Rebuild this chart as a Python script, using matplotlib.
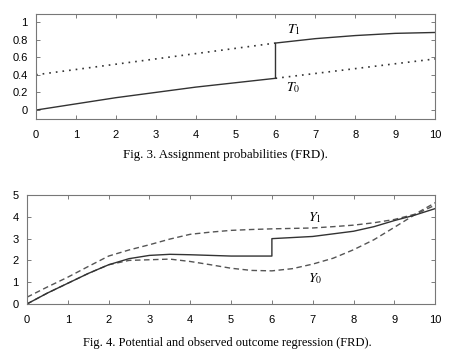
import matplotlib.pyplot as plt

plt.rcParams['mathtext.fontset'] = 'stix'

# Fig. 3 data: assignment probabilities
x_left = [0, 1, 2, 3, 4, 5, 6]
t_left = [0.0, 0.07, 0.14, 0.20, 0.26, 0.31, 0.36]
x_right = [6, 7, 8, 9, 10]
t_right = [0.76, 0.81, 0.845, 0.87, 0.88]
t1_dot_x = [0, 6]
t1_dot = [0.40, 0.76]
t0_dot_x = [6, 10]
t0_dot = [0.36, 0.58]

# Fig. 4 data: outcome regressions
xs = [0, 0.5, 1, 1.5, 2, 2.5, 3, 3.5, 4, 4.5, 5, 5.5, 6, 6.5, 7, 7.5, 8, 8.5, 9, 9.5, 10]
y1 = [0.31, 0.78, 1.23, 1.72, 2.2, 2.48, 2.72, 2.98, 3.2, 3.3, 3.38, 3.42, 3.45, 3.47,
      3.49, 3.55, 3.62, 3.73, 3.88, 4.12, 4.65]
y0 = [0.0, 0.5, 0.95, 1.4, 1.8, 2.0, 2.03, 2.06, 1.95, 1.8, 1.64, 1.54, 1.52, 1.62,
      1.83, 2.1, 2.49, 2.95, 3.52, 4.1, 4.54]
obs_x_left = [0, 0.5, 1, 1.5, 2, 2.5, 3, 3.5, 4, 4.5, 5, 5.5, 6]
obs_left = [0.0, 0.5, 0.95, 1.4, 1.8, 2.08, 2.23, 2.28, 2.26, 2.23, 2.2, 2.2, 2.2]
obs_x_right = [6, 7, 8, 8.5, 9, 9.5, 10]
obs_right = [3.0, 3.1, 3.34, 3.55, 3.83, 4.08, 4.38]

col = '#333333'
fig = plt.figure(figsize=(4.5, 3.58), dpi=100)

ax1 = fig.add_axes([0.08, 0.668, 0.887, 0.293])
ax1.plot(x_left + x_right, t_left + t_right, color=col, lw=1)
ax1.plot(t1_dot_x, t1_dot, color=col, lw=1.2, ls=(0, (1, 3)))
ax1.plot(t0_dot_x, t0_dot, color=col, lw=1.2, ls=(0, (1, 3)))
ax1.set_xlim(0, 10)
ax1.set_ylim(-0.1, 1.09)
ax1.set_xticks(range(11))
ax1.set_yticks([0, 0.2, 0.4, 0.6, 0.8, 1])
ax1.set_yticklabels(['0', '0.2', '0.4', '0.6', '0.8', '1'])
ax1.text(6.45, 0.91, r'$T_1$', fontsize=10, ha='center', va='center')
ax1.text(6.45, 0.25, r'$T_0$', fontsize=10, ha='center', va='center')

ax2 = fig.add_axes([0.06, 0.151, 0.907, 0.304])
ax2.plot(xs, y1, color='#555555', lw=1, ls=(0, (4, 2.5)))
ax2.plot(xs, y0, color='#555555', lw=1, ls=(0, (4, 2.5)))
ax2.plot(obs_x_left + obs_x_right, obs_left + obs_right, color=col, lw=1)
ax2.set_xlim(0, 10)
ax2.set_ylim(0, 5)
ax2.set_xticks(range(11))
ax2.set_yticks(range(6))
ax2.text(7.06, 3.97, r'$Y_1$', fontsize=10, ha='center', va='center')
ax2.text(7.06, 1.17, r'$Y_0$', fontsize=10, ha='center', va='center')

for ax in (ax1, ax2):
    ax.tick_params(direction='in', top=True, right=True, length=3,
                   width=0.6, color='#666666', labelsize=8, pad=6)
    ax.tick_params(axis='x', pad=8)
    for s in ax.spines.values():
        s.set_color('#777777')
        s.set_linewidth(0.8)
    for lab in ax.get_xticklabels() + ax.get_yticklabels():
        lab.set_family('Liberation Sans')

fig.text(0.5, 0.567, 'Fig. 3. Assignment probabilities (FRD).', ha='center',
         va='center', family='Liberation Serif', fontsize=9.3)
fig.text(0.505, 0.042, 'Fig. 4. Potential and observed outcome regression (FRD).',
         ha='center', va='center', family='Liberation Serif', fontsize=9)

fig.savefig('out.png', dpi=100)
